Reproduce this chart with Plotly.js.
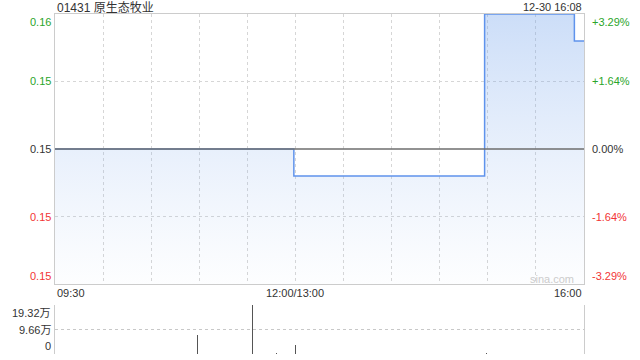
<!DOCTYPE html>
<html>
<head>
<meta charset="utf-8">
<script src="https://cdn.plot.ly/plotly-3.0.1.min.js"></script>
<style>html,body{margin:0;padding:0;background:#fff;}#chart{width:640px;height:360px;}</style>
</head>
<body>
<div id="chart"></div>
<script>
// ---- data ----
var stockTitle = "01431 原生态牧业";
var stampText = "12-30 16:08";
var prevClose = 0.152;
var priceTimes = ["09:30", "11:59", "14:58", "15:54", "16:00"];
var priceValues = [0.152, 0.151, 0.157, 0.156, 0.156];
var volTimes = ["10:59", "11:33", "11:48", "13:00", "13:06", "14:59", "15:54"];
var volValues = [7.5, 19.32, 0.3, 3.6, 0.15, 0.25, 0.15]; // 万
var priceTickVals = [0.157, 0.1545, 0.152, 0.1495, 0.147];
var priceTickText = ["0.16", "0.15", "0.15", "0.15", "0.15"];
var pctTickText = ["+3.29%", "+1.64%", "0.00%", "-1.64%", "-3.29%"];
var volTickVals = [19.32, 9.66, 0];
var volTickText = ["19.32万", "9.66万", "0"];
var timeTickTimes = ["09:30", "10:00", "10:30", "11:00", "11:30", "12:00", "13:30", "14:00", "14:30", "15:00", "15:30", "16:00"];
var timeLabelTimes = ["09:30", "12:00", "16:00"];
var timeLabelText = ["09:30", "12:00/13:00", "16:00"];

// ---- helpers ----
function toIdx(t) {
  var p = t.split(":");
  var m = (+p[0]) * 60 + (+p[1]);
  if (m >= 13 * 60) m -= 60;
  return m - (9 * 60 + 30);
}
var FONT = "Liberation Sans, Arial, Noto Sans CJK SC, sans-serif";
var GREEN = "#2aa52a", RED = "#f23535", DARK = "#333333";

var px = priceTimes.map(toIdx);
var vx = volTimes.map(toIdx);

var traces = [
  {
    x: px, y: priceValues, type: "scatter", mode: "lines",
    line: {shape: "hv", color: "#5f93ec", width: 1.5},
    fill: "tozeroy",
    fillgradient: {type: "vertical", start: 0.147, stop: 0.157,
      colorscale: [[0, "rgba(150,185,240,0.02)"], [1, "rgba(110,160,235,0.35)"]]},
    xaxis: "x", yaxis: "y", hoverinfo: "skip"
  },
  {
    x: vx, y: volValues, type: "bar", width: 0.6,
    marker: {color: "#555555", line: {width: 0}},
    xaxis: "x2", yaxis: "y2", hoverinfo: "skip"
  }
];

var annotations = [];
function ann(o) {
  annotations.push(Object.assign({showarrow: false, font: {family: FONT, size: 11, color: DARK}}, o));
}
ann({text: stockTitle, xref: "paper", yref: "paper", x: 0, y: 1 - 8 / 360, xanchor: "left", yanchor: "middle", font: {family: FONT, size: 12, color: DARK}});
ann({text: stampText, xref: "paper", yref: "paper", x: 1, y: 1 - 7 / 360, xanchor: "right", yanchor: "middle"});
priceTickVals.forEach(function (v, i) {
  var col = v > prevClose ? GREEN : (v < prevClose ? RED : DARK);
  var ya = i === 0 ? "top" : (i === priceTickVals.length - 1 ? "bottom" : "middle");
  ann({text: priceTickText[i], xref: "paper", yref: "y", x: 0, y: v, xanchor: "right", yanchor: ya, xshift: -2, font: {family: FONT, size: 11, color: col}});
  ann({text: pctTickText[i], xref: "paper", yref: "y", x: 1, y: v, xanchor: "left", yanchor: ya, xshift: 6, font: {family: FONT, size: 11, color: col}});
});
volTickVals.forEach(function (v, i) {
  var ya = i === 0 ? "top" : (i === volTickVals.length - 1 ? "bottom" : "middle");
  ann({text: volTickText[i], xref: "paper", yref: "y2", x: 0, y: v, xanchor: "right", yanchor: ya, xshift: -2});
});
timeLabelTimes.forEach(function (t, i) {
  var xa = i === 0 ? "left" : (i === timeLabelTimes.length - 1 ? "right" : "center");
  ann({text: timeLabelText[i], xref: "x", yref: "paper", x: toIdx(t), y: 1 - 293 / 360, xanchor: xa, yanchor: "middle"});
});
ann({text: "sina.com", xref: "paper", yref: "paper", x: 0.94, y: 1 - 279 / 360, xanchor: "center", yanchor: "middle", font: {family: FONT, size: 11, color: "#cccccc"}});

var layout = {
  width: 640, height: 360,
  margin: {l: 55, r: 56, t: 0, b: 0},
  paper_bgcolor: "#ffffff", plot_bgcolor: "#ffffff",
  showlegend: false, bargap: 0,
  font: {family: FONT, size: 11, color: DARK},
  xaxis: {
    domain: [0, 1], range: [0, 330], anchor: "y",
    tickvals: timeTickTimes.map(toIdx), showticklabels: false, ticks: "",
    showgrid: true, gridcolor: "#d6d6d6", griddash: "dot", gridwidth: 1,
    showline: true, mirror: true, linecolor: "#cccccc", linewidth: 1, zeroline: false
  },
  yaxis: {
    domain: [1 - 284 / 360, 1 - 14 / 360], range: [0.147, 0.157], anchor: "x",
    tickvals: [priceTickVals[1], priceTickVals[3]], showticklabels: false, ticks: "",
    showgrid: true, gridcolor: "#d6d6d6", griddash: "dot", gridwidth: 1,
    showline: true, mirror: true, linecolor: "#cccccc", linewidth: 1, zeroline: false
  },
  xaxis2: {
    domain: [0, 1], range: [0, 330], anchor: "y2",
    showticklabels: false, ticks: "", showgrid: false, showline: false, zeroline: false
  },
  yaxis2: {
    domain: [1 - 354 / 360, 1 - 305 / 360], range: [0, 19.32], anchor: "x2",
    tickvals: volTickVals, showticklabels: false, ticks: "",
    showgrid: true, gridcolor: "#c8c8c8", griddash: "dot", gridwidth: 1,
    showline: true, mirror: true, linecolor: "#cccccc", linewidth: 1, zeroline: false
  },
  shapes: [
    {type: "line", xref: "paper", yref: "y", x0: 0, x1: 1, y0: prevClose, y1: prevClose,
     line: {color: "#6e6e6e", width: 1.5}, layer: "above"}
  ],
  annotations: annotations
};

Plotly.newPlot("chart", traces, layout, {staticPlot: true, displayModeBar: false});
</script>
</body>
</html>
